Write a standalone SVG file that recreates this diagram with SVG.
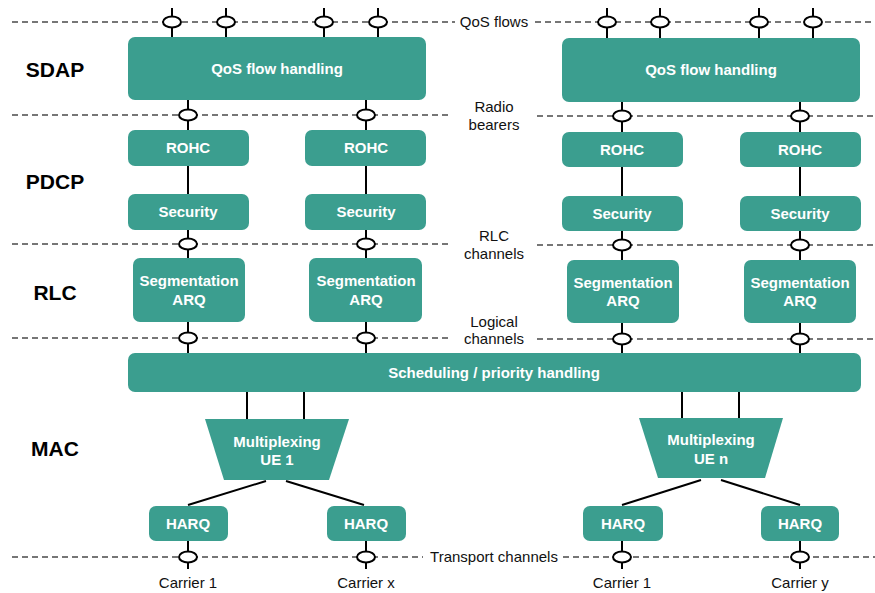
<svg xmlns="http://www.w3.org/2000/svg" width="875" height="593" viewBox="0 0 875 593">
<style>
.box{fill:#3b9e8f;}
.bt{font-family:"Liberation Sans",Arial,sans-serif;font-weight:bold;font-size:15px;fill:#fff;text-anchor:middle;}
.lay{font-family:"Liberation Sans",Arial,sans-serif;font-weight:bold;font-size:21px;fill:#000;text-anchor:middle;}
.ct{font-family:"Liberation Sans",Arial,sans-serif;font-size:15px;fill:#111;text-anchor:middle;}
.dash{stroke:#4a4a4a;stroke-width:1.3;stroke-dasharray:6 4;fill:none;}
.ln{stroke:#000;stroke-width:2;fill:none;}
.sap{fill:#fff;stroke:#000;stroke-width:2;}
</style>
<rect width="875" height="593" fill="#fff"/>
<g id="dashes">
<line class="dash" x1="12" y1="22" x2="455" y2="22"/><line class="dash" x1="535" y1="22" x2="875" y2="22"/>
<line class="dash" x1="12" y1="115" x2="448" y2="115"/><line class="dash" x1="537" y1="116" x2="875" y2="116"/>
<line class="dash" x1="12" y1="244" x2="448" y2="244"/><line class="dash" x1="537" y1="245" x2="875" y2="245"/>
<line class="dash" x1="12" y1="338" x2="448" y2="338"/><line class="dash" x1="537" y1="339" x2="875" y2="339"/>
<line class="dash" x1="12" y1="557" x2="423" y2="557"/><line class="dash" x1="563" y1="557" x2="875" y2="557"/>
</g>
<g id="layer-labels">
<text class="lay" x="55" y="77">SDAP</text>
<text class="lay" x="55" y="189">PDCP</text>
<text class="lay" x="55" y="300">RLC</text>
<text class="lay" x="55" y="456">MAC</text>
</g>
<g id="channel-labels">
<text class="ct" x="494" y="27">QoS flows</text>
<text class="ct" x="494" y="112">Radio</text>
<text class="ct" x="494" y="130">bearers</text>
<text class="ct" x="494" y="241">RLC</text>
<text class="ct" x="494" y="259">channels</text>
<text class="ct" x="494" y="327">Logical</text>
<text class="ct" x="494" y="344">channels</text>
<text class="ct" x="494" y="562">Transport channels</text>
<text class="ct" x="188" y="588">Carrier 1</text>
<text class="ct" x="366" y="588">Carrier x</text>
<text class="ct" x="622" y="588">Carrier 1</text>
<text class="ct" x="800" y="588">Carrier y</text>
</g>
<g id="connectors">
<path class="ln" d="M172 8V37M226 8V37M324 8V37M378 8V37M607 8V38M660 8V38M759 8V38M813 8V38"/>
<path class="ln" d="M188 100V130M366 100V130M622 102V132M800 102V132"/>
<path class="ln" d="M188 166V194M366 166V194M622 167V196M800 167V196"/>
<path class="ln" d="M188 230V258M366 230V258M622 231V260M800 231V260"/>
<path class="ln" d="M188 322V353M366 322V353M622 323V353M800 323V353"/>
<path class="ln" d="M247 392V419M304 392V419M682 392V418M739 392V418"/>
<path class="ln" d="M266 481L188 505M286 481L364 505M701 480L622 505M721 480L800 505"/>
<path class="ln" d="M188 541V569M366 541V569M622 541V569M800 541V569"/>
<ellipse class="sap" cx="172" cy="22" rx="9" ry="5.5"/><ellipse class="sap" cx="226" cy="22" rx="9" ry="5.5"/>
<ellipse class="sap" cx="324" cy="22" rx="9" ry="5.5"/><ellipse class="sap" cx="378" cy="22" rx="9" ry="5.5"/>
<ellipse class="sap" cx="607" cy="22" rx="9" ry="5.5"/><ellipse class="sap" cx="660" cy="22" rx="9" ry="5.5"/>
<ellipse class="sap" cx="759" cy="22" rx="9" ry="5.5"/><ellipse class="sap" cx="813" cy="22" rx="9" ry="5.5"/>
<ellipse class="sap" cx="188" cy="115" rx="9" ry="5.5"/><ellipse class="sap" cx="366" cy="115" rx="9" ry="5.5"/>
<ellipse class="sap" cx="622" cy="116" rx="9" ry="5.5"/><ellipse class="sap" cx="800" cy="116" rx="9" ry="5.5"/>
<ellipse class="sap" cx="188" cy="244" rx="9" ry="5.5"/><ellipse class="sap" cx="366" cy="244" rx="9" ry="5.5"/>
<ellipse class="sap" cx="622" cy="245" rx="9" ry="5.5"/><ellipse class="sap" cx="800" cy="245" rx="9" ry="5.5"/>
<ellipse class="sap" cx="188" cy="338" rx="9" ry="5.5"/><ellipse class="sap" cx="366" cy="338" rx="9" ry="5.5"/>
<ellipse class="sap" cx="622" cy="339" rx="9" ry="5.5"/><ellipse class="sap" cx="800" cy="339" rx="9" ry="5.5"/>
<ellipse class="sap" cx="188" cy="557" rx="9" ry="5.5"/><ellipse class="sap" cx="366" cy="557" rx="9" ry="5.5"/>
<ellipse class="sap" cx="622" cy="557" rx="9" ry="5.5"/><ellipse class="sap" cx="800" cy="557" rx="9" ry="5.5"/>
</g>
<g id="qos1"><rect class="box" x="128" y="37" width="298" height="63" rx="7"/><text class="bt" x="277" y="74">QoS flow handling</text></g>
<g id="qos2"><rect class="box" x="562" y="38" width="298" height="64" rx="7"/><text class="bt" x="711" y="75">QoS flow handling</text></g>
<g id="rohc1"><rect class="box" x="128" y="130" width="121" height="36" rx="7"/><text class="bt" x="188" y="153">ROHC</text></g>
<g id="rohc2"><rect class="box" x="305" y="130" width="121" height="36" rx="7"/><text class="bt" x="366" y="153">ROHC</text></g>
<g id="rohc3"><rect class="box" x="562" y="132" width="121" height="35" rx="7"/><text class="bt" x="622" y="155">ROHC</text></g>
<g id="rohc4"><rect class="box" x="740" y="132" width="121" height="35" rx="7"/><text class="bt" x="800" y="155">ROHC</text></g>
<g id="sec1"><rect class="box" x="128" y="194" width="121" height="36" rx="7"/><text class="bt" x="188" y="217">Security</text></g>
<g id="sec2"><rect class="box" x="305" y="194" width="121" height="36" rx="7"/><text class="bt" x="366" y="217">Security</text></g>
<g id="sec3"><rect class="box" x="562" y="196" width="121" height="35" rx="7"/><text class="bt" x="622" y="219">Security</text></g>
<g id="sec4"><rect class="box" x="740" y="196" width="121" height="35" rx="7"/><text class="bt" x="800" y="219">Security</text></g>
<g id="seg1"><rect class="box" x="133" y="258" width="112" height="64" rx="7"/><text class="bt" x="189" y="286">Segmentation</text><text class="bt" x="189" y="305">ARQ</text></g>
<g id="seg2"><rect class="box" x="309" y="258" width="113" height="64" rx="7"/><text class="bt" x="366" y="286">Segmentation</text><text class="bt" x="366" y="305">ARQ</text></g>
<g id="seg3"><rect class="box" x="567" y="260" width="112" height="63" rx="7"/><text class="bt" x="623" y="288">Segmentation</text><text class="bt" x="623" y="306">ARQ</text></g>
<g id="seg4"><rect class="box" x="744" y="260" width="112" height="63" rx="7"/><text class="bt" x="800" y="288">Segmentation</text><text class="bt" x="800" y="306">ARQ</text></g>
<g id="sched"><rect class="box" x="128" y="353" width="733" height="39" rx="7"/><text class="bt" x="494" y="378">Scheduling / priority handling</text></g>
<g id="mux1"><polygon class="box" points="205,419 349,419 329,480 224,480"/><text class="bt" x="277" y="447">Multiplexing</text><text class="bt" x="277" y="465">UE 1</text></g>
<g id="mux2"><polygon class="box" points="639,418 783,418 765,478 658,478"/><text class="bt" x="711" y="445">Multiplexing</text><text class="bt" x="711" y="464">UE n</text></g>
<g id="harq1"><rect class="box" x="149" y="506" width="79" height="35" rx="7"/><text class="bt" x="188" y="529">HARQ</text></g>
<g id="harq2"><rect class="box" x="327" y="506" width="79" height="35" rx="7"/><text class="bt" x="366" y="529">HARQ</text></g>
<g id="harq3"><rect class="box" x="583" y="506" width="80" height="35" rx="7"/><text class="bt" x="623" y="529">HARQ</text></g>
<g id="harq4"><rect class="box" x="761" y="506" width="78" height="35" rx="7"/><text class="bt" x="800" y="529">HARQ</text></g>
</svg>
